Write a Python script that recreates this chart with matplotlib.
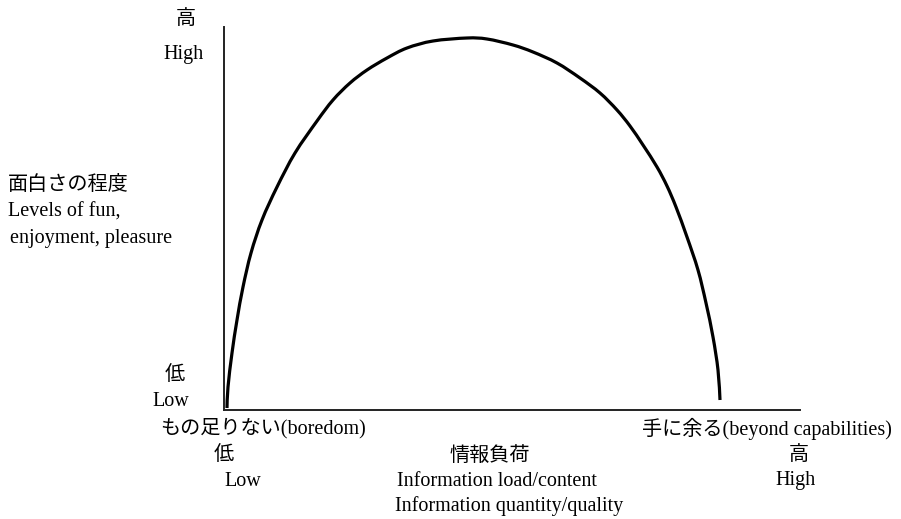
import matplotlib
matplotlib.use("Agg")
import matplotlib.pyplot as plt
from matplotlib.path import Path
from matplotlib.patches import PathPatch

# curve (arbitrary units: information load vs fun)
load = [3, 4, 8, 13, 19, 27, 38, 53, 71, 93, 109, 126, 143, 163, 183, 209, 243, 263,
        289, 309, 333, 356, 376, 393, 406, 419, 433, 443, 452, 463, 474, 482, 489, 494, 496]
fun = [2, 23, 57, 90, 123, 157, 190, 223, 257, 289, 310, 327, 340, 352, 362, 369, 372, 371,
       365, 358, 347, 332, 317, 300, 284, 265, 243, 224, 203, 173, 140, 107, 73, 40, 10]

fonts = ['Liberation Serif', 'Noto Sans CJK JP']
W, H = 901, 519

fig = plt.figure(figsize=(W / 100, H / 100), dpi=100)
ax = fig.add_axes([224 / W, 1 - 410 / H, 576 / W, 383 / H])

# smooth line through the read points (Catmull-Rom drawn as cubic Bezier segments)
pts = list(zip(load, fun))
verts = [pts[0]]
codes = [Path.MOVETO]
for i in range(len(pts) - 1):
    p0 = pts[i - 1] if i > 0 else pts[i]
    p1 = pts[i]
    p2 = pts[i + 1]
    p3 = pts[i + 2] if i + 2 < len(pts) else pts[i + 1]
    c1 = (p1[0] + (p2[0] - p0[0]) / 6, p1[1] + (p2[1] - p0[1]) / 6)
    c2 = (p2[0] - (p3[0] - p1[0]) / 6, p2[1] - (p3[1] - p1[1]) / 6)
    verts += [c1, c2, p2]
    codes += [Path.CURVE4] * 3
ax.add_patch(PathPatch(Path(verts, codes), facecolor='none', edgecolor='black',
                       lw=2.3, capstyle='butt'))

ax.set_xlim(0, 576)
ax.set_ylim(0, 383)
ax.set_xticks([])
ax.set_yticks([])
for s in ['top', 'right']:
    ax.spines[s].set_visible(False)
for s in ['left', 'bottom']:
    ax.spines[s].set_linewidth(1.4)
    ax.spines[s].set_color('#222222')


def label(x, y, s, ha='center'):
    fig.text(x / W, 1 - y / H, s, ha=ha, va='center', fontsize=14.5, family=fonts)


label(186, 20, '高')
label(184, 54, 'High')
label(8, 185, '面白さの程度', ha='left')
label(8, 212, 'Levels of fun,', ha='left')
label(10, 239, 'enjoyment, pleasure', ha='left')
label(175, 375, '低')
label(171, 402, 'Low')
label(263, 428, 'もの足りない(boredom)')
label(224, 455, '低')
label(243, 481, 'Low')
label(490, 456, '情報負荷')
label(497, 481, 'Information load/content')
label(509, 506, 'Information quantity/quality')
label(767, 429, '手に余る(beyond capabilities)')
label(799, 456, '高')
label(796, 481, 'High')

fig.savefig('out.png', dpi=100)
